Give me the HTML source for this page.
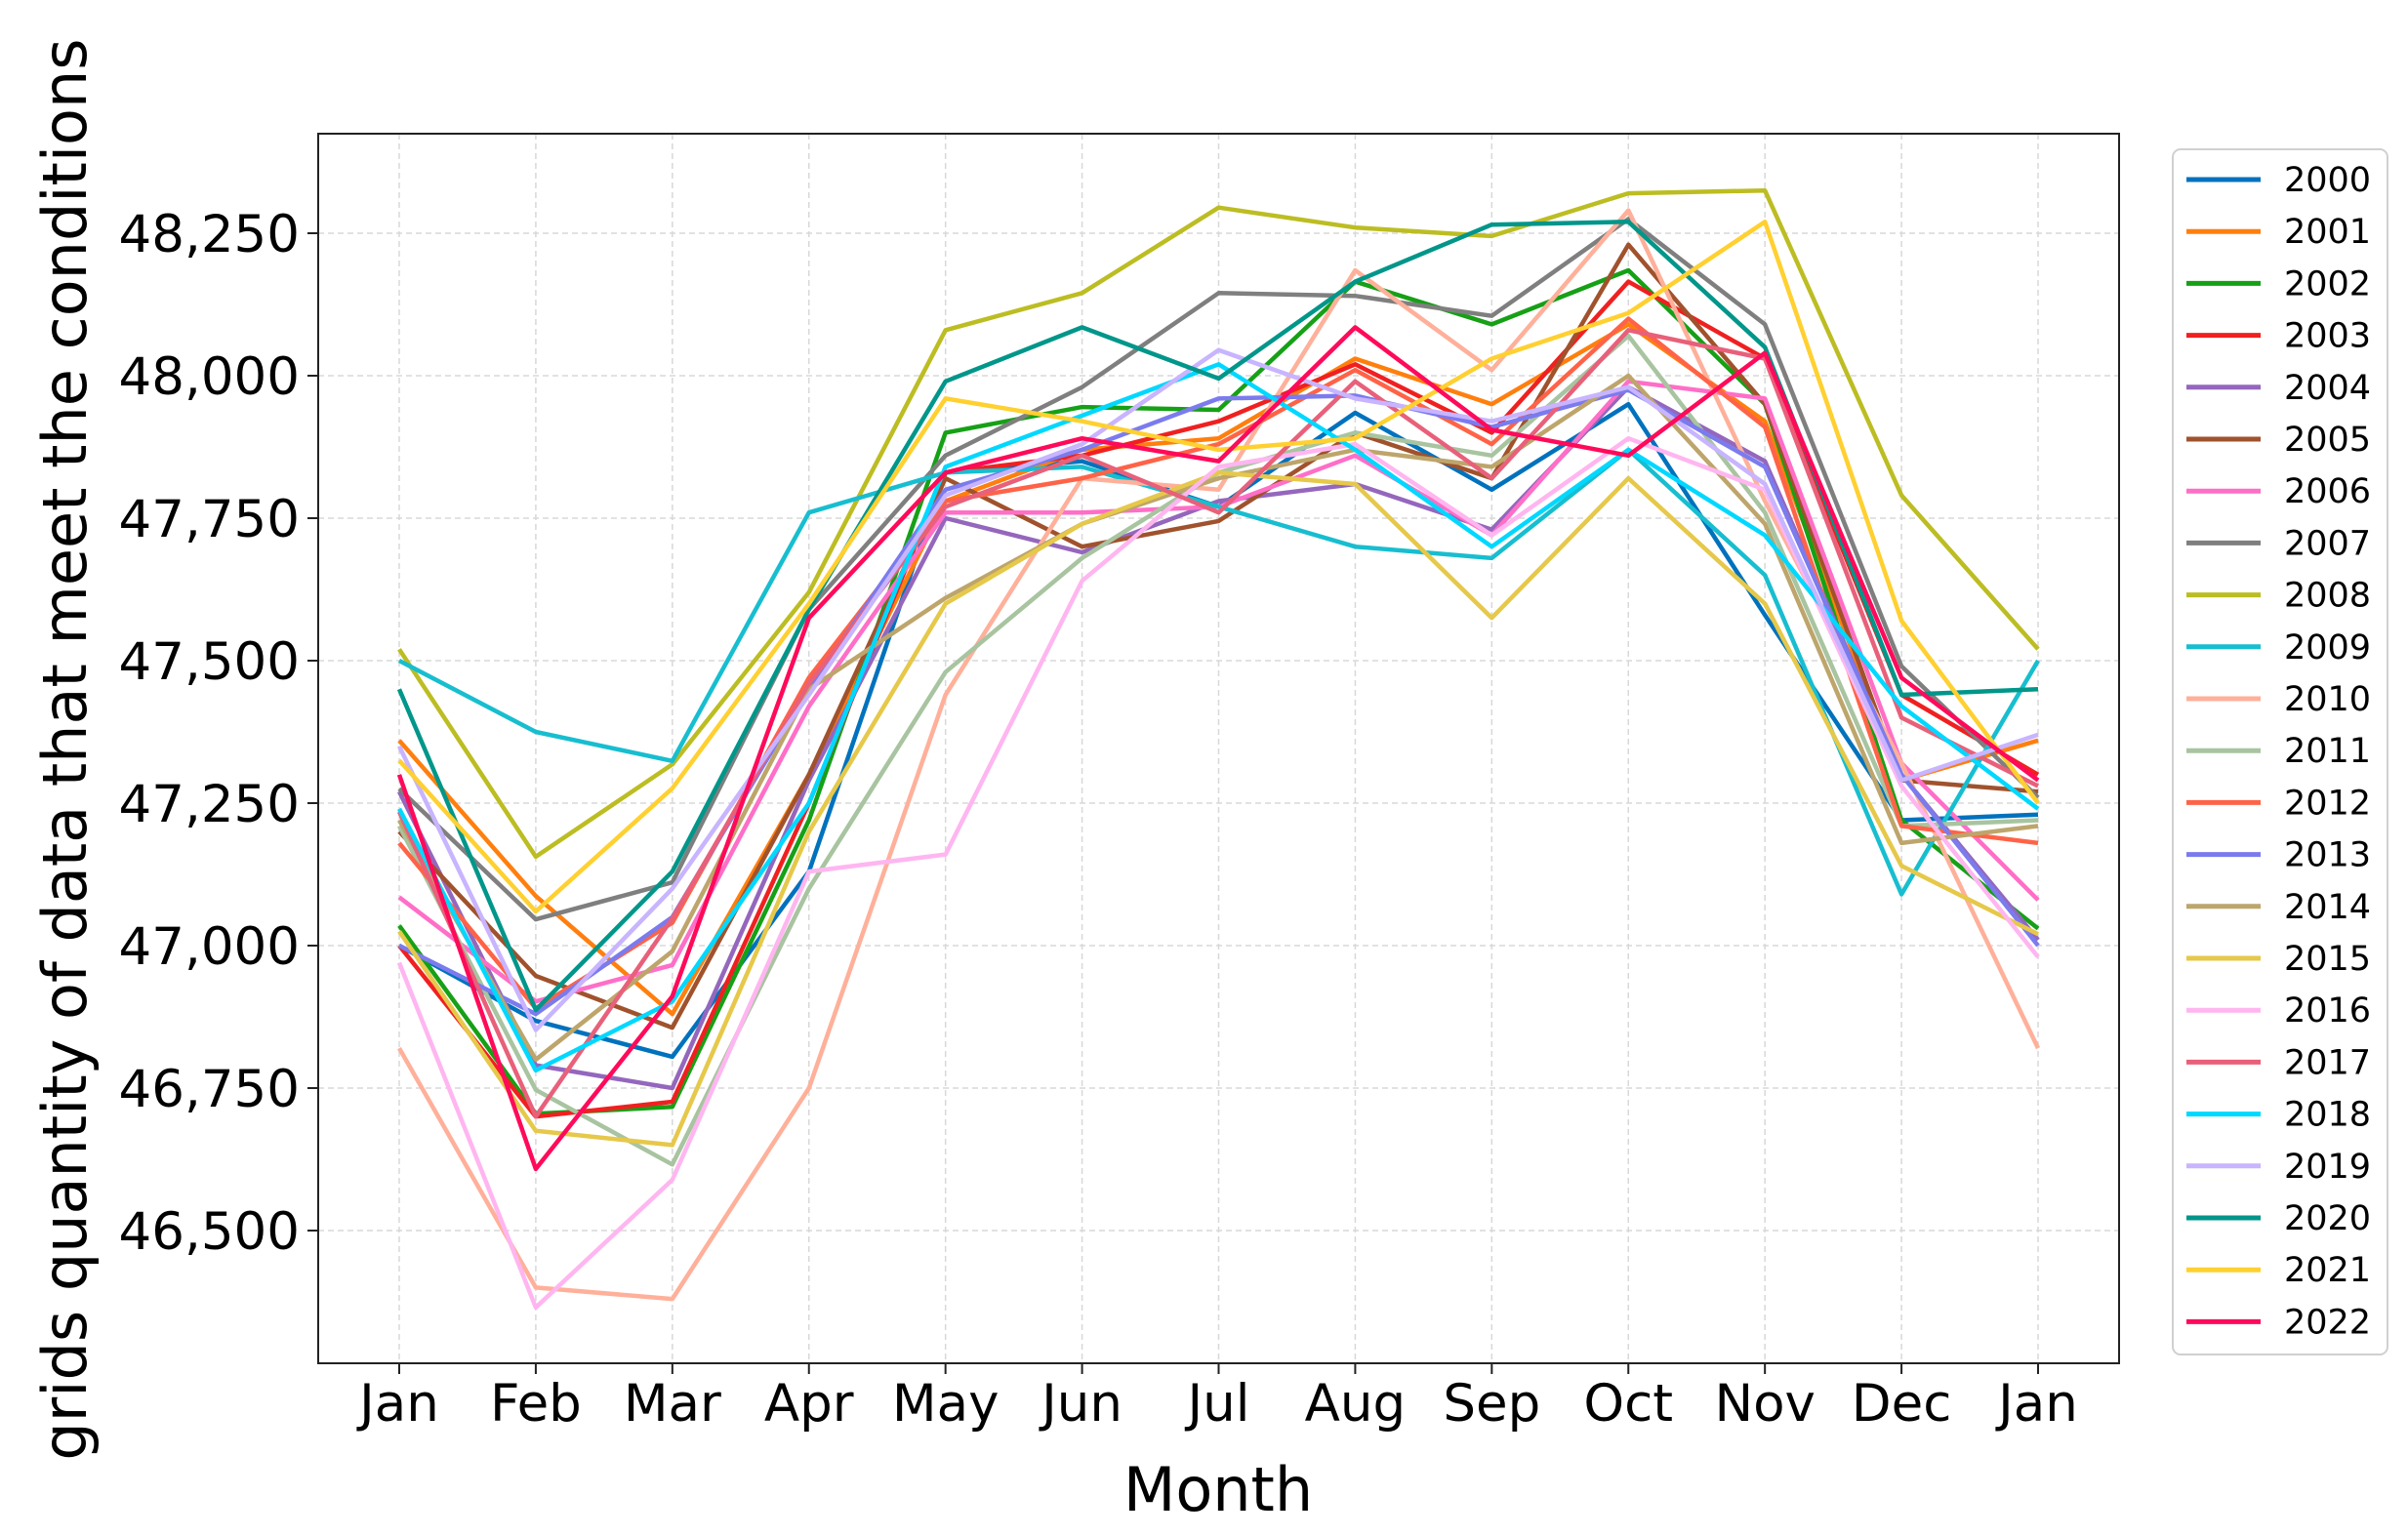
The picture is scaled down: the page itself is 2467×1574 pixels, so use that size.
<!DOCTYPE html>
<html><head><meta charset="utf-8"><style>
html,body{margin:0;padding:0;background:#fff;}
svg{display:block;font-family:"DejaVu Sans","Liberation Sans",sans-serif;}
</style></head><body>
<svg id="chart" width="2467" height="1574" viewBox="0 0 2467 1574" xmlns="http://www.w3.org/2000/svg">
<rect x="0" y="0" width="2467" height="1574" fill="#fff"/>
<g id="grid"></g>
<g id="series"></g>
<rect x="326" y="137" width="1845" height="1260" fill="none" stroke="#222" stroke-width="2"/>
<g id="axes"></g>
<text x="1248" y="1548" font-size="62" text-anchor="middle" fill="#000">Month</text>
<text transform="translate(88,768) rotate(-90)" font-size="62" text-anchor="middle" fill="#000">grids quantity of data that meet the conditions</text>
<g id="legend"></g>
</svg>
<script>
const months = ["Jan","Feb","Mar","Apr","May","Jun","Jul","Aug","Sep","Oct","Nov","Dec","Jan"];
const yTicks = [46500,46750,47000,47250,47500,47750,48000,48250];
const yTickLabels = ["46,500","46,750","47,000","47,250","47,500","47,750","48,000","48,250"];
const years = ["2000","2001","2002","2003","2004","2005","2006","2007","2008","2009","2010","2011","2012","2013","2014","2015","2016","2017","2018","2019","2020","2021","2022"];
const colors = ["#0072bd","#ff7f0e","#16a016","#f02020","#9467bd","#a0522d","#ff6ec7","#7f7f7f","#bcbd22","#17becf","#ffb09a","#a8c4a0","#ff6347","#7b7bee","#bda56b","#e6c84a","#ffb6f0","#e8607a","#00d8ff","#c8b4ff","#00968a","#ffd030","#ff0a5a"];
const s2000 = [47000,46868,46805,47130,47830,47850,47770,47935,47800,47950,47580,47220,47230];
const s2001 = [47360,47087,46880,47300,47780,47870,47890,48030,47950,48090,47920,47290,47360];
const s2002 = [47035,46705,46717,47220,47900,47945,47940,48165,48090,48185,47950,47220,47030];
const s2003 = [47000,46700,46726,47250,47830,47860,47920,48020,47900,48165,48030,47440,47300];
const s2004 = [47270,46790,46750,47290,47750,47690,47780,47810,47730,47980,47850,47300,47010];
const s2005 = [47200,46947,46856,47300,47820,47700,47745,47900,47820,48230,47950,47290,47270];
const s2006 = [47085,46902,46966,47420,47760,47760,47770,47860,47720,47990,47960,47320,47080];
const s2007 = [47275,47046,47111,47590,47860,47980,48145,48140,48105,48275,48090,47490,47260];
const s2008 = [47520,47156,47318,47620,48080,48145,48295,48260,48245,48320,48325,47790,47520];
const s2009 = [47500,47375,47324,47760,47830,47840,47770,47700,47680,47870,47650,47090,47500];
const s2010 = [46820,46400,46380,46750,47440,47820,47800,48185,48010,48290,47780,47320,46820];
const s2011 = [47210,46747,46616,47100,47480,47680,47830,47900,47860,48070,47760,47210,47220];
const s2012 = [47180,46890,47040,47470,47780,47820,47880,48010,47880,48100,47910,47210,47180];
const s2013 = [47000,46880,47050,47450,47800,47870,47960,47965,47910,47975,47840,47300,47000];
const s2014 = [47220,46800,46990,47450,47610,47740,47820,47870,47840,48000,47740,47180,47210];
const s2015 = [47025,46675,46650,47200,47600,47740,47830,47810,47575,47820,47600,47140,47020];
const s2016 = [46970,46365,46589,47130,47160,47640,47840,47880,47720,47890,47800,47280,46980];
const s2017 = [47235,46700,47048,47460,47770,47860,47760,47990,47820,48080,48030,47400,47280];
const s2018 = [47240,46781,46902,47250,47840,47930,48020,47870,47700,47870,47720,47420,47240];
const s2019 = [47350,46852,47100,47440,47790,47880,48045,47960,47920,47980,47810,47290,47370];
const s2020 = [47450,46887,47130,47590,47990,48085,47995,48165,48265,48270,48050,47440,47450];
const s2021 = [47325,47060,47276,47600,47960,47920,47870,47890,48030,48110,48270,47570,47250];
const s2022 = [47300,46608,46911,47575,47830,47890,47850,48085,47905,47860,48040,47470,47290];
const seriesValues = [s2000,s2001,s2002,s2003,s2004,s2005,s2006,s2007,s2008,s2009,s2010,s2011,s2012,s2013,s2014,s2015,s2016,s2017,s2018,s2019,s2020,s2021,s2022];

const NS = "http://www.w3.org/2000/svg";
function xPos(i){ return 409 + i*(2088-409)/(months.length-1); }
function yPos(v){ return 385 - (v-48000)*0.584; }
function mk(tag, attrs, parent){ const e=document.createElementNS(NS,tag); for(const k in attrs) e.setAttribute(k,attrs[k]); parent.appendChild(e); return e; }

const grid=document.getElementById('grid'), axes=document.getElementById('axes');
months.forEach((m,i)=>{
  const x=xPos(i);
  const gl=mk('line',{x1:x,x2:x,y1:137,y2:1397,stroke:'#d8d8d8','stroke-width':1.5,'stroke-dasharray':'6,4'},grid);
  
  
  const tk=mk('line',{x1:x,x2:x,y1:1397,y2:1408,stroke:'#222','stroke-width':2},axes);
  
  
  const t=mk('text',{x:x,y:1456,'font-size':53,'text-anchor':'middle',fill:'#000'},axes);
  t.textContent=m;
  
  
});
yTicks.forEach((v,i)=>{
  const y=yPos(v);
  const gl=mk('line',{x1:326,x2:2171,y1:y,y2:y,stroke:'#d8d8d8','stroke-width':1.5,'stroke-dasharray':'6,4'},grid);
  
  
  const tk=mk('line',{x1:315,x2:326,y1:y,y2:y,stroke:'#222','stroke-width':2},axes);
  
  
  const t=mk('text',{x:307,y:y+19,'font-size':53,'text-anchor':'end',fill:'#000'},axes);
  t.textContent=yTickLabels[i];
  
  
});
const sg=document.getElementById('series');
seriesValues.forEach((vals,k)=>{
  const pts=vals.map((v,i)=>xPos(i).toFixed(1)+','+yPos(v).toFixed(1)).join(' ');
  const pl=mk('polyline',{points:pts,fill:'none',stroke:colors[k],'stroke-width':4.5,'stroke-linejoin':'round'},sg);
  
  
});
const lg=document.getElementById('legend');
const box=mk('rect',{x:2226,y:153,width:220,height:1235,rx:8,fill:'#fff',stroke:'#d0d0d0','stroke-width':2},lg);


years.forEach((yr,k)=>{
  const y=184+k*53.2;
  const g=mk('g',{},lg);
  
  
  mk('line',{x1:2240,x2:2316,y1:y,y2:y,stroke:colors[k],'stroke-width':5},g);
  const t=mk('text',{x:2340,y:y+12,'font-size':35,fill:'#000'},g);
  t.textContent=yr;
});
</script>
</body></html>
